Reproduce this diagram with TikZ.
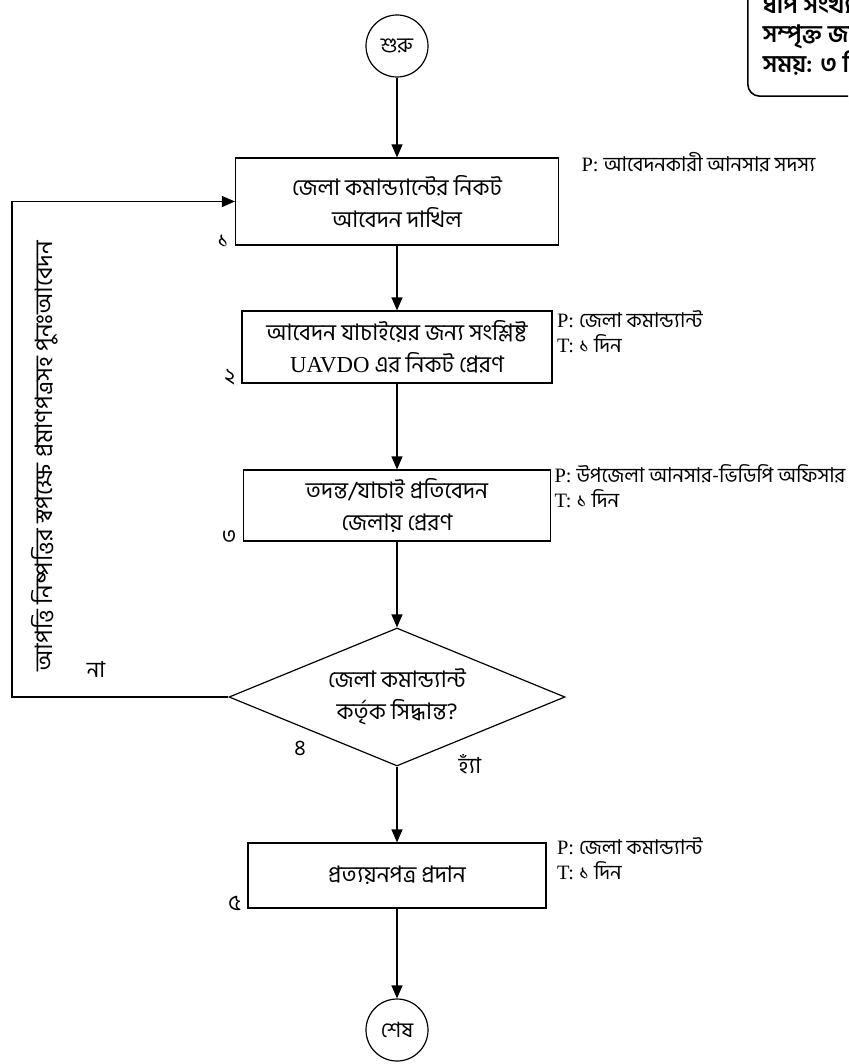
\documentclass[tikz,border=0pt]{standalone}
\usepackage{fontspec}
\setmainfont{Liberation Serif}
\newfontfamily\bn[Script=Bengali]{Hind Siliguri}
\usetikzlibrary{shapes.geometric,arrows.meta}

\tikzset{
  proc/.style={draw, rectangle, line width=0.6pt, align=center, inner sep=0pt,
    font={\bn\fontsize{11.4}{16}\selectfont}},
  term/.style={draw, circle, line width=0.6pt, minimum size=31pt, inner sep=0pt,
    font={\bn\fontsize{10.5}{12}\selectfont}},
  decide/.style={draw, diamond, line width=0.6pt, minimum width=168pt, minimum height=69pt,
    inner sep=0pt},
  arr/.style={line width=0.6pt, -{Triangle[length=6.5pt,width=5.5pt]}},
  note/.style={anchor=north west, align=left, inner sep=0pt, font={\fontsize{10.2}{12.5}\selectfont}},
  stepno/.style={anchor=south east, inner sep=0pt, font={\bn\fontsize{11}{12}\selectfont}},
  lbl/.style={inner sep=0pt, font={\bn\fontsize{11}{12}\selectfont}}
}

\begin{document}
\begin{tikzpicture}[x=0.5pt, y=-0.5pt]
    \useasboundingbox (0,0) rectangle (848,1064);
    \clip (0,0) rectangle (848,1064);

    % flow nodes
    \node[term] (start) at (397,46) {শুরু};
    \node[proc, minimum width=161.5pt, minimum height=43.5pt] (b1) at (397,201.5) {জেলা কমান্ড্যান্টের নিকট\\আবেদন দাখিল};
    \node[proc, minimum width=155pt, minimum height=36pt] (b2) at (397,347) {আবেদন যাচাইয়ের জন্য সংশ্লিষ্ট\\{\rmfamily UAVDO} এর নিকট প্রেরণ};
    \node[proc, minimum width=153.5pt, minimum height=35.5pt] (b3) at (397,505.5) {তদন্ত/যাচাই প্রতিবেদন\\জেলায় প্রেরণ};
    \node[decide] (dec) at (397,697) {};
    \node[proc, draw=none, minimum width=0pt, minimum height=0pt] (dectxt) at (dec) {জেলা কমান্ড্যান্ট\\কর্তৃক সিদ্ধান্ত?};
    \node[proc, minimum width=149pt, minimum height=32.5pt] (b5) at (397,875.5) {প্রত্যয়নপত্র প্রদান};
    \node[term] (stop) at (397,1030) {শেষ};

    % step numbers
    \node[stepno] (n1) at ([xshift=-3pt,yshift=-1pt]b1.south west) {১};
    \node[stepno] (n2) at ([xshift=-3pt,yshift=-1pt]b2.south west) {২};
    \node[stepno] (n3) at ([xshift=-3pt,yshift=-1pt]b3.south west) {৩};
    \node[lbl] (n4) at (300,748) {৪};
    \node[stepno] (n5) at ([xshift=-3pt,yshift=-1pt]b5.south west) {৫};

    % persons and time
    \node[note] (p1) at ([xshift=11pt,yshift=2.5pt]b1.north east) {P: {\bn আবেদনকারী আনসার সদস্য}};
    \node[note] (p2) at ([xshift=2pt]b2.north east) {P: {\bn জেলা কমান্ড্যান্ট}\\T: {\bn ১ দিন}};
    \node[note] (p3) at ([xshift=1.5pt,yshift=2.5pt]b3.north east) {P: {\bn উপজেলা আনসার-ভিডিপি অফিসার}\\T: {\bn ১ দিন}};
    \node[note] (p5) at ([xshift=5pt,yshift=2.5pt]b5.north east) {P: {\bn জেলা কমান্ড্যান্ট}\\T: {\bn ১ দিন}};

    % summary box
    \node[draw, rounded corners=6pt, line width=0.8pt, anchor=south west, align=left,
      inner xsep=7.5pt, inner ysep=10.5pt, font={\bn\bfseries\fontsize{12}{14.7}\selectfont}] (info) at (747,97)
      {ধাপ সংখ্যা: ৫\\সম্পৃক্ত জনবল: ৩\\সময়: ৩ দিন};

    % connectors
    \draw[arr] (start) -- (b1);
    \draw[arr] (b1) -- (b2);
    \draw[arr] (b2) -- (b3);
    \draw[arr] (b3) -- (dec);
    \draw[arr] (dec) -- (b5);
    \draw[arr] (b5) -- (stop);
    \coordinate (back) at (12,697);
    \draw[arr] (dec.west) -- (back) |- (b1.west);

    \node[lbl] (no) at (96,670) {না};
    \node[lbl] (yes) at (470,764) {হ্যাঁ};
    \node[lbl, font={\bn\fontsize{12}{14}\selectfont}, rotate=90] (retxt) at (45,456) {আপত্তি নিষ্পত্তির স্বপক্ষে প্রমাণপত্রসহ পুনঃআবেদন};
\end{tikzpicture}
\end{document}
